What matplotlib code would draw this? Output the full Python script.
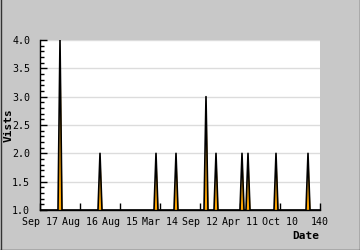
"""Visits per day, spiky area chart in the old JpGraph look."""
import numpy as np
import matplotlib
matplotlib.use("Agg")
import matplotlib.pyplot as plt
from matplotlib.ticker import MultipleLocator
from matplotlib.lines import Line2D

# daily series: baseline of 1 visit, with peaks on these days
N_DAYS = 141
PEAK_DAYS = [10, 30, 58, 68, 83, 88, 101, 104, 118, 134]
PEAK_VISITS = [4, 2, 2, 2, 3, 2, 2, 2, 2, 2]

TICK_POS = [0, 20, 40, 60, 80, 100, 120, 140]
TICK_LABELS = ["Sep 17", "Aug 16", "Aug 15", "Mar 14", "Sep 12",
               "Apr 11", "Oct 10", "140"]

BG = "#c8c8c8"
ORANGE = "#ffa500"
GRID = "#dcdcdc"
FONT = "DejaVu Sans Mono"


def main():
    days = np.arange(N_DAYS)
    visits = np.ones(N_DAYS)
    visits[PEAK_DAYS] = PEAK_VISITS

    fig = plt.figure(figsize=(3.6, 2.5), dpi=100)
    fig.patch.set_facecolor(BG)
    ax = fig.add_axes([40 / 360, 40 / 250, 280 / 360, 170 / 250])
    ax.set_facecolor("white")

    ax.fill_between(days, visits, 1, color=ORANGE, linewidth=0, zorder=2)
    ax.plot(days, visits, color="black", linewidth=1.2, zorder=3)

    ax.set_xlim(0, 140)
    ax.set_ylim(1.0, 4.0)
    ax.set_xticks(TICK_POS)
    ax.set_xticklabels(TICK_LABELS)
    ax.yaxis.set_major_locator(MultipleLocator(0.5))
    ax.yaxis.set_minor_locator(MultipleLocator(0.1))
    ax.yaxis.set_major_formatter(plt.FormatStrFormatter("%.1f"))

    ax.tick_params(axis="both", which="major", direction="in", length=5,
                   width=1, colors="black", labelsize=7.2)
    ax.tick_params(axis="y", which="minor", direction="in", length=3, width=1)
    ax.tick_params(axis="y", pad=7)
    ax.tick_params(axis="x", pad=5)
    for lab in ax.get_xticklabels() + ax.get_yticklabels():
        lab.set_fontfamily(FONT)

    ax.grid(axis="y", color=GRID, linewidth=1)
    ax.set_axisbelow(True)
    for side in ("top", "right"):
        ax.spines[side].set_visible(False)
    for side in ("left", "bottom"):
        ax.spines[side].set_linewidth(1)
        ax.spines[side].set_zorder(5)

    fig.text(9 / 360, 1 - 125 / 250, "Vists", rotation=90, ha="center",
             va="center", fontsize=8, fontweight="bold", family=FONT)
    fig.text(319 / 360, 1 - 236 / 250, "Date", ha="right", va="center",
             fontsize=8, fontweight="bold", family=FONT)

    # dark frame on left, bottom and right edges
    e = 0.5
    for xs, ys in (([e / 360, e / 360], [0, 1]),
                   ([0, 1], [e / 250, e / 250]),
                   ([1 - e / 360, 1 - e / 360], [0, 1])):
        fig.lines.append(Line2D(xs, ys, transform=fig.transFigure,
                                color="#333333", linewidth=1))

    fig.savefig("out.png", dpi=100, facecolor=BG)
    plt.close(fig)


if __name__ == "__main__":
    main()
